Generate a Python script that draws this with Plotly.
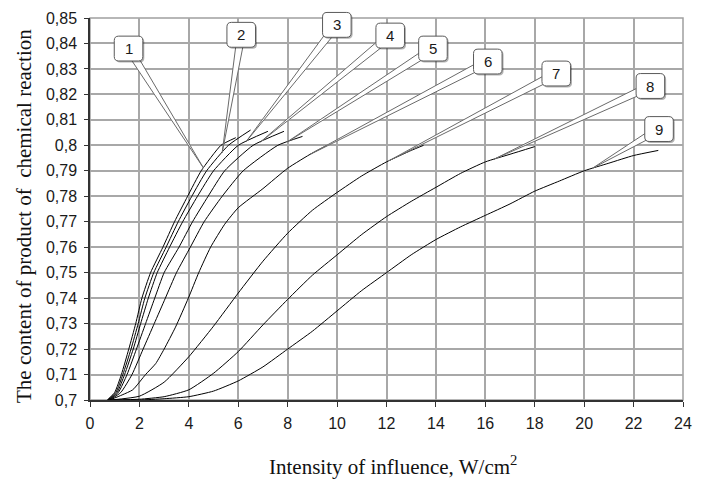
import numpy as np
import plotly.graph_objects as go

# ---------------- data ----------------
c1_x = [0.70, 1.00, 1.27, 1.57, 1.85, 2.10, 2.45, 2.95, 3.42, 3.95, 4.50, 5.30, 5.90]
c1_y = [0.700, 0.703, 0.710, 0.720, 0.730, 0.740, 0.750, 0.760, 0.770, 0.780, 0.790, 0.800, 0.803]
c2_x = [0.72, 1.05, 1.33, 1.66, 1.95, 2.22, 2.58, 3.08, 3.57, 4.12, 4.72, 5.60, 6.50]
c2_y = [0.700, 0.703, 0.710, 0.720, 0.730, 0.740, 0.750, 0.760, 0.770, 0.780, 0.790, 0.800, 0.806]
c3_x = [0.75, 1.10, 1.40, 1.75, 2.05, 2.36, 2.72, 3.22, 3.75, 4.35, 5.00, 6.00, 7.20]
c3_y = [0.700, 0.703, 0.710, 0.720, 0.730, 0.740, 0.750, 0.760, 0.770, 0.780, 0.790, 0.800, 0.8055]
c4_x = [0.78, 1.15, 1.50, 1.88, 2.25, 2.62, 3.00, 3.60, 4.15, 4.78, 5.45, 6.60, 7.85]
c4_y = [0.700, 0.703, 0.710, 0.720, 0.730, 0.740, 0.750, 0.760, 0.770, 0.780, 0.790, 0.800, 0.8055]
c5_x = [0.80, 1.25, 1.70, 2.15, 2.60, 3.05, 3.50, 4.06, 4.62, 5.35, 6.20, 7.60, 8.60]
c5_y = [0.700, 0.703, 0.710, 0.720, 0.730, 0.740, 0.750, 0.760, 0.770, 0.780, 0.790, 0.800, 0.8035]
c6_x = [0.80, 1.30, 1.73, 2.25, 2.66, 3.00, 3.46, 3.98, 4.40, 4.88, 5.45, 6.00, 7.00, 8.00, 9.00, 9.60]
c6_y = [0.700, 0.702, 0.704, 0.710, 0.7143, 0.720, 0.7286, 0.740, 0.750, 0.760, 0.769, 0.7755, 0.783, 0.791, 0.797, 0.800]
c7_x = [0.85, 2.0, 3.0, 4.0, 5.0, 6.0, 7.0, 8.0, 9.0, 10.0, 11.0, 12.0, 13.0, 13.5]
c7_y = [0.700, 0.7015, 0.707, 0.717, 0.729, 0.742, 0.7545, 0.7655, 0.7745, 0.7815, 0.788, 0.7935, 0.798, 0.800]
c8_x = [0.90, 2.0, 3.0, 4.0, 5.0, 6.0, 7.0, 8.0, 9.0, 10.0, 11.0, 12.0, 13.0, 14.0, 15.0, 16.0, 17.0, 18.0]
c8_y = [0.700, 0.7003, 0.7013, 0.704, 0.7105, 0.719, 0.7295, 0.7395, 0.749, 0.757, 0.765, 0.772, 0.778, 0.7835, 0.789, 0.7935, 0.7965, 0.7995]
c9_x = [0.70, 2.0, 3.0, 4.0, 5.0, 6.0, 7.0, 8.0, 9.0, 10.0, 11.0, 12.0, 13.0, 14.0, 15.0, 16.0, 17.0, 18.0, 19.0, 20.0, 21.0, 22.0, 23.0]
c9_y = [0.700, 0.700, 0.7005, 0.7013, 0.7035, 0.7075, 0.713, 0.720, 0.727, 0.735, 0.743, 0.750, 0.757, 0.763, 0.768, 0.7725, 0.777, 0.782, 0.786, 0.790, 0.793, 0.796, 0.798]

curves_x = [c1_x, c2_x, c3_x, c4_x, c5_x, c6_x, c7_x, c8_x, c9_x]
curves_y = [c1_y, c2_y, c3_y, c4_y, c5_y, c6_y, c7_y, c8_y, c9_y]

label_text = ["1", "2", "3", "4", "5", "6", "7", "8", "9"]
label_x = [1.56, 6.12, 9.99, 12.15, 13.88, 16.10, 18.87, 22.68, 23.03]
label_y = [0.838, 0.8434, 0.8473, 0.8431, 0.838, 0.8329, 0.8282, 0.8233, 0.8064]
target_x = [4.59, 5.35, 6.32, 6.90, 7.98, 8.90, 12.10, 16.35, 20.34]

x_ticks = list(range(0, 25, 2))
x_tick_text = [str(v) for v in x_ticks]
y_ticks = [0.70, 0.71, 0.72, 0.73, 0.74, 0.75, 0.76, 0.77, 0.78, 0.79, 0.80, 0.81, 0.82, 0.83, 0.84, 0.85]
y_tick_text = ["0,7", "0,71", "0,72", "0,73", "0,74", "0,75", "0,76", "0,77", "0,78", "0,79",
               "0,8", "0,81", "0,82", "0,83", "0,84", "0,85"]

x_title = "Intensity of influence, W/cm<sup>2</sup>"
y_title = "The content of product of  chemical reaction"

# ---------------- geometry ----------------
W, H = 702, 479
ML, MR, MT, MB = 90, 10, 16, 79
XR = [0, 24]
YR = [0.70, 0.85]
PW = W - ML - MR
PH = H - MT - MB
sx = PW / (XR[1] - XR[0])   # px per x unit
sy = PH / (YR[1] - YR[0])   # px per y unit


def to_paper(x, y):
    return (x - XR[0]) / (XR[1] - XR[0]), (y - YR[0]) / (YR[1] - YR[0])


fig = go.Figure()

for cx, cy in zip(curves_x, curves_y):
    fig.add_trace(go.Scatter(x=cx, y=cy, mode="lines",
                             line=dict(color="black", width=1, shape="spline", smoothing=0.5),
                             hoverinfo="skip", showlegend=False))


def P(px, py):
    return f"{px:.5f},{py:.5f}"


def rounded_rect(cx, cy, hw, hh, r, ox=0.0, oy=0.0):
    # cx, cy in data; hw, hh, r, ox, oy in pixels; output path in paper coords
    pcx, pcy = to_paper(cx, cy)

    def pt(dx, dy):
        return P(pcx + (dx + ox) / PW, pcy - (dy + oy) / PH)
    d = "M " + pt(-hw + r, -hh)
    d += " L " + pt(hw - r, -hh) + " Q " + pt(hw, -hh) + " " + pt(hw, -hh + r)
    d += " L " + pt(hw, hh - r) + " Q " + pt(hw, hh) + " " + pt(hw - r, hh)
    d += " L " + pt(-hw + r, hh) + " Q " + pt(-hw, hh) + " " + pt(-hw, hh - r)
    d += " L " + pt(-hw, -hh + r) + " Q " + pt(-hw, -hh) + " " + pt(-hw + r, -hh) + " Z"
    return d


shapes = []
shapes.append(dict(type="rect", xref="paper", yref="paper", x0=0, y0=0, x1=1, y1=1,
                   line=dict(color="#a0a0a0", width=1.5), layer="below"))

for i in range(len(label_text)):
    cx, cy = label_x[i], label_y[i]
    tx = target_x[i]
    ty = float(np.interp(tx, curves_x[i], curves_y[i]))
    vx = (tx - cx) * sx
    vy = -(ty - cy) * sy
    L = np.hypot(vx, vy)
    nx, ny = -vy / L, vx / L
    hwid = 4.0
    pcx, pcy = to_paper(cx, cy)
    ptx, pty = to_paper(tx, ty)
    b1 = (pcx + nx * hwid / PW, pcy - ny * hwid / PH)
    b2 = (pcx - nx * hwid / PW, pcy + ny * hwid / PH)
    wedge = "M " + P(*b1) + " L " + P(ptx, pty) + " L " + P(*b2) + " Z"
    shapes.append(dict(type="path", xref="paper", yref="paper", path=wedge,
                       fillcolor="white", line=dict(color="#6a6a6a", width=1), layer="above"))
    shapes.append(dict(type="path", xref="paper", yref="paper",
                       path=rounded_rect(cx, cy, 14.5, 12.5, 4.5, ox=1.5, oy=1.5),
                       fillcolor="rgba(0,0,0,0.30)", line=dict(width=0), layer="above"))
    shapes.append(dict(type="path", xref="paper", yref="paper",
                       path=rounded_rect(cx, cy, 14.5, 12.5, 4.5),
                       fillcolor="white", line=dict(color="#5a5a5a", width=1), layer="above"))

annotations = []
for i in range(len(label_text)):
    annotations.append(dict(x=label_x[i], y=label_y[i], xref="x", yref="y", text=label_text[i],
                            showarrow=False, xanchor="center", yanchor="middle",
                            font=dict(family="Liberation Sans, Arial", size=15, color="#1a1a1a")))

annotations.append(dict(x=(398 - ML) / PW, y=(H - MB - 466) / PH,
                        xref="paper", yref="paper", text=x_title, showarrow=False,
                        xanchor="center", yanchor="middle",
                        font=dict(family="Liberation Serif, Times New Roman", size=21, color="#111111")))
annotations.append(dict(x=(23 - ML) / PW, y=(H - MB - 215) / PH,
                        xref="paper", yref="paper", text=y_title, showarrow=False, textangle=-90,
                        xanchor="center", yanchor="middle",
                        font=dict(family="Liberation Serif, Times New Roman", size=21, color="#111111")))

fig.update_layout(
    width=W, height=H,
    margin=dict(l=ML, r=MR, t=MT, b=MB),
    paper_bgcolor="white", plot_bgcolor="white",
    showlegend=False,
    shapes=shapes,
    annotations=annotations,
    xaxis=dict(range=XR, tickmode="array", tickvals=x_ticks, ticktext=x_tick_text,
               showgrid=True, gridcolor="#a8a8a8", gridwidth=1.5,
               showline=True, linecolor="#333333", linewidth=1.5,
               ticks="outside", ticklen=5, tickcolor="#333333", tickwidth=1,
               ticklabelstandoff=3,
               tickfont=dict(family="Liberation Sans, Arial", size=16, color="#1a1a1a"),
               zeroline=False, fixedrange=True),
    yaxis=dict(range=YR, tickmode="array", tickvals=y_ticks, ticktext=y_tick_text,
               showgrid=True, gridcolor="#a8a8a8", gridwidth=1.5,
               showline=True, linecolor="#333333", linewidth=1.5,
               ticks="outside", ticklen=4, tickcolor="#333333", tickwidth=1,
               ticklabelstandoff=4,
               tickfont=dict(family="Liberation Sans, Arial", size=16, color="#1a1a1a"),
               zeroline=False, fixedrange=True),
)

fig.write_html("out.html")
